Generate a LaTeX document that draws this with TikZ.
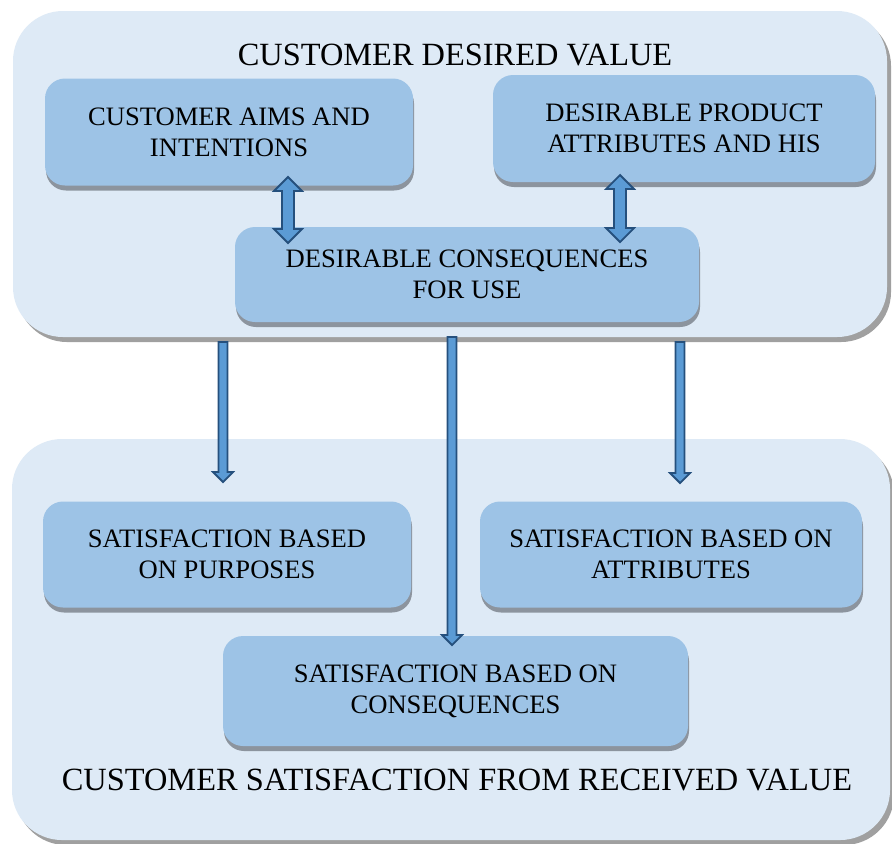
\documentclass[tikz,border=0pt]{standalone}
\usepackage{fontspec}
\setmainfont{Liberation Serif}
\usetikzlibrary{calc,shadows}

\definecolor{outerfill}{RGB}{222,234,246}
\definecolor{innerfill}{RGB}{157,195,230}
\definecolor{outershadow}{RGB}{160,160,160}
\definecolor{innershadow}{RGB}{140,148,158}
\definecolor{arrowfill}{RGB}{91,155,213}
\definecolor{arrowline}{RGB}{37,80,125}

\tikzset{
    outerbox/.style={rounded corners=25pt, fill=outerfill, inner sep=0pt,
        drop shadow={shadow xshift=2pt, shadow yshift=-2.5pt, fill=outershadow, opacity=1}},
    innerbox/.style={rounded corners=10pt, fill=innerfill, inner sep=0pt, align=center,
        font=\fontsize{13.3}{15.5}\selectfont,
        drop shadow={shadow xshift=0.5pt, shadow yshift=-2.5pt, fill=innershadow, opacity=1}},
    titletext/.style={anchor=base, font=\fontsize{16.2}{19}\selectfont},
    downarrow/.style={draw=arrowline, fill=arrowfill, line width=0.9pt,
        to path={let \p1=(\tikztostart), \p2=(\tikztotarget) in
            (\x1-2.25pt,\y1) -- (\x1-2.25pt,\y2+5pt) -- (\x1-5pt,\y2+5pt) -- (\x1,\y2)
            -- (\x1+5pt,\y2+5pt) -- (\x1+2.25pt,\y2+5pt) -- (\x1+2.25pt,\y1) -- cycle}},
    dblarrow/.style={draw=arrowline, fill=arrowfill, line width=0.9pt,
        to path={let \p1=(\tikztostart), \p2=(\tikztotarget) in
            (\x1,\y1) -- (\x1+7pt,\y1-7pt) -- (\x1+3pt,\y1-7pt) -- (\x1+3pt,\y2+7pt)
            -- (\x1+7pt,\y2+7pt) -- (\x1,\y2) -- (\x1-7pt,\y2+7pt) -- (\x1-3pt,\y2+7pt)
            -- (\x1-3pt,\y1-7pt) -- (\x1-7pt,\y1-7pt) -- cycle}}
}

\begin{document}
\begin{tikzpicture}[x=0.5pt, y=-0.5pt]
    \useasboundingbox[fill=white] (0,0) rectangle (892,843);

    % two big panels
    \node[outerbox, minimum width=437pt, minimum height=163pt] (desired) at (450,174) {};
    \node[outerbox, minimum width=439pt, minimum height=200.5pt] (received) at (451,639.5) {};

    \node[titletext] (desiredtitle) at (455,65) {CUSTOMER DESIRED VALUE};
    \node[titletext] (receivedtitle) at (457,790) {CUSTOMER SATISFACTION FROM RECEIVED VALUE};

    % upper boxes
    \node[innerbox, minimum width=184pt, minimum height=53.5pt] (aims) at (229,132)
        {CUSTOMER AIMS AND\\INTENTIONS};
    \node[innerbox, minimum width=191pt, minimum height=53.5pt] (product) at (684,128.5)
        {DESIRABLE PRODUCT\\ATTRIBUTES AND HIS};
    \node[innerbox, minimum width=232pt, minimum height=47.5pt] (consequences) at (467,274.5)
        {DESIRABLE CONSEQUENCES\\FOR USE};

    % lower boxes
    \node[innerbox, minimum width=184pt, minimum height=53pt] (purposes) at (227,554.5)
        {SATISFACTION BASED\\ON PURPOSES};
    \node[innerbox, minimum width=191pt, minimum height=53pt] (attributes) at (671,554.5)
        {SATISFACTION BASED ON\\ATTRIBUTES};
    \node[innerbox, minimum width=232.5pt, minimum height=55pt] (satcons) at (455.5,691)
        {SATISFACTION BASED ON\\CONSEQUENCES};

    % arrow ends
    \coordinate (aimsend) at (288,177);
    \coordinate (consleft) at (288,243);
    \coordinate (productend) at (620,175);
    \coordinate (consright) at (620,242);
    \coordinate (leftstart) at (223,342);
    \coordinate (leftend) at (223,482);
    \coordinate (midstart) at (452,337);
    \coordinate (midend) at (452,645);
    \coordinate (rightstart) at (680,342);
    \coordinate (rightend) at (680,483);

    \draw[dblarrow] (aimsend) to (consleft);
    \draw[dblarrow] (productend) to (consright);
    \draw[downarrow] (leftstart) to (leftend);
    \draw[downarrow] (midstart) to (midend);
    \draw[downarrow] (rightstart) to (rightend);
\end{tikzpicture}
\end{document}
